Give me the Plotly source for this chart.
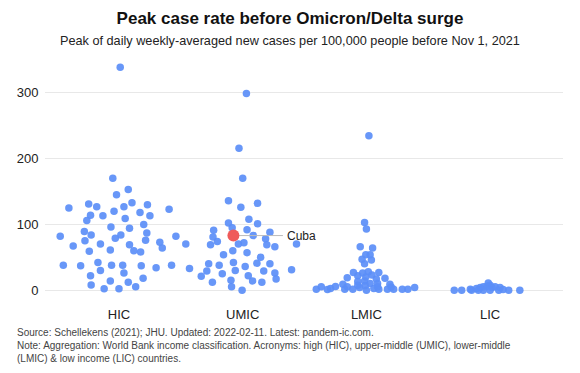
import plotly.graph_objects as go

categories = ["HIC", "UMIC", "LMIC", "LIC"]

hic_values = [339, 170, 153, 145, 133, 125, 131, 127, 127, 130, 123, 120, 114, 113, 118, 113,
              106, 109, 100, 96, 94, 82, 89, 84, 84, 87, 79, 76, 75, 67, 70, 69, 73, 82, 64, 70,
              59, 61, 60, 58, 38, 37, 42, 38, 38, 37, 34, 38, 33, 30, 26, 22, 18, 8, 14, 12, 2, 2, 5]
hic_jitter = [0.01, -0.05, 0.075, -0.02, 0.105, -0.405, -0.245, -0.18, 0.04, 0.23, 0.405, -0.04,
              -0.23, -0.13, 0.17, 0.25, -0.26, 0.05, 0.2, -0.065, 0.085, -0.475, -0.28, -0.225,
              0.015, 0.225, -0.03, 0.215, -0.275, -0.37, -0.15, 0.085, 0.33, 0.46, 0.35, 0.54,
              -0.24, -0.07, 0.12, 0.175, -0.45, -0.31, -0.17, -0.06, 0.03, 0.18, 0.3, 0.425, 0.57,
              -0.15, 0.04, -0.23, 0.195, -0.225, -0.07, 0.075, -0.12, 0.0, 0.135]

umic_values = [299, 216, 170, 136, 132, 126, 108, 102, 101, 95, 91, 92, 88, 81, 83, 74, 78, 69,
               70, 72, 69, 66, 70, 60, 57, 54, 50, 40, 38, 42, 36, 41, 40, 29, 30, 31, 29, 21, 25,
               22, 26, 17, 12, 15, 14, 12, 5, 0]
umic_jitter = [0.03, -0.03, 0.0, -0.115, 0.12, -0.015, 0.05, -0.115, 0.12, -0.085, -0.235, 0.035,
               0.22, -0.24, 0.085, -0.205, 0.185, -0.26, -0.035, 0.01, 0.195, 0.26, 0.435, -0.08,
               0.035, -0.155, 0.145, -0.275, -0.19, -0.075, 0.02, 0.115, 0.22, -0.29, -0.06, 0.395,
               0.17, -0.335, -0.165, 0.045, 0.26, 0.27, -0.245, -0.095, 0.08, 0.155, -0.09, -0.005]

lmic_values = [235, 103, 93, 66, 64, 54, 54, 47, 46, 40, 27, 26, 28, 27, 19, 22, 20, 23, 17, 18,
               13, 14, 10, 10, 9, 9, 1.5, 5, 1, 2.5, 5.6, 1.5, 5, 1.5, 4, 0, 2.5, 1.5, 1.5, 4.6,
               1.5, 1.5, 1.5, 4, 7.6, 5, 7]
lmic_jitter = [0.02, -0.015, 0.0, -0.05, 0.05, -0.005, 0.03, -0.035, 0.04, -0.015, -0.105, -0.03,
               0.015, 0.1, -0.155, -0.07, -0.005, 0.045, 0.08, 0.15, -0.07, -0.015, 0.03, 0.09,
               -0.19, 0.19, -0.405, -0.365, -0.315, -0.29, -0.25, -0.175, -0.155, -0.11, -0.055,
               0.0, 0.06, 0.1, 0.17, 0.2, 0.22, 0.29, 0.335, 0.39, -0.07, 0.09, -0.01]

lic_values = [0, 0, 1.5, 0, 2.5, 4, 5, 11, 6, 7.6, 4, 5, 4, 0, 1, 0, 0, 0, 0, 0]
lic_jitter = [-0.29, -0.23, -0.16, -0.15, -0.11, -0.08, -0.055, -0.015, -0.025, 0.0, 0.015, 0.04,
              0.08, 0.07, 0.105, 0.15, 0.24, 0.0, -0.055, -0.095]

cuba_name = "Cuba"
cuba_value = 83
cuba_jitter = -0.075
cuba_category = "UMIC"

y_ticks = [0, 100, 200, 300]

title = "<b>Peak case rate before Omicron/Delta surge</b>"
subtitle = "Peak of daily weekly-averaged new cases per 100,000 people before Nov 1, 2021"
footnote = ("Source: Schellekens (2021); JHU. Updated: 2022-02-11. Latest: pandem-ic.com.<br>"
            "Note: Aggregation: World Bank income classification. Acronyms: high (HIC), upper-middle (UMIC), lower-middle<br>"
            "(LMIC) & low income (LIC) countries.")

BLUE = "#5b8ef7"
RED = "#ef5a5a"
FONT = "Liberation Sans, Arial, sans-serif"

fig = go.Figure()
groups = [(hic_values, hic_jitter), (umic_values, umic_jitter),
          (lmic_values, lmic_jitter), (lic_values, lic_jitter)]
for i, (vals, jit) in enumerate(groups):
    fig.add_trace(go.Scatter(
        x=[i + j for j in jit], y=vals, mode="markers",
        marker=dict(color=BLUE, size=7.5, opacity=0.92, line=dict(width=0)),
        showlegend=False, hoverinfo="y"))

ci = categories.index(cuba_category)
cx = ci + cuba_jitter
label_x = ci + 0.325
fig.add_trace(go.Scatter(x=[cx, label_x], y=[cuba_value, cuba_value], mode="lines",
                         line=dict(color="#bbbbbb", width=1), showlegend=False, hoverinfo="skip"))
fig.add_trace(go.Scatter(x=[cx], y=[cuba_value], mode="markers",
                         marker=dict(color=RED, size=12, line=dict(width=0)),
                         showlegend=False, hoverinfo="y"))
fig.add_annotation(x=label_x, y=cuba_value, text=cuba_name, showarrow=False,
                   xanchor="left", xshift=2, font=dict(size=12, color="#222222", family=FONT))

fig.update_layout(
    width=580, height=373,
    margin=dict(l=45, r=17, t=62, b=73),
    paper_bgcolor="white", plot_bgcolor="white",
    font=dict(family=FONT, color="#222222"),
    title=dict(text=title, x=0.5, xanchor="center", y=0.952, yanchor="middle",
               font=dict(size=17, color="#111111", family=FONT)),
    xaxis=dict(range=[-0.598, 3.589], tickvals=list(range(len(categories))), ticktext=categories,
               showgrid=False, zeroline=False, showline=False, ticks="outside", ticklen=2,
               tickcolor="white", tickfont=dict(size=13, color="#222222")),
    yaxis=dict(range=[-15, 347], tickvals=y_ticks, showgrid=True, gridcolor="#e8e8e8", gridwidth=1,
               zeroline=False, showline=False, ticks="outside", ticklen=3, tickcolor="white",
               tickfont=dict(size=13, color="#222222")),
)
fig.add_annotation(text=subtitle, xref="paper", yref="paper", x=0.473, y=1.0, yshift=21,
                   xanchor="center", yanchor="middle", showarrow=False,
                   font=dict(size=12.7, color="#222222", family=FONT))
fig.add_annotation(text=footnote, xref="paper", yref="paper", x=0, xshift=-30, y=0, yshift=-25,
                   xanchor="left", yanchor="top", align="left", showarrow=False,
                   font=dict(size=10, color="#444444", family=FONT))

fig.write_html("out.html", config={"displayModeBar": False},
               post_script="document.body.style.margin='0';")
